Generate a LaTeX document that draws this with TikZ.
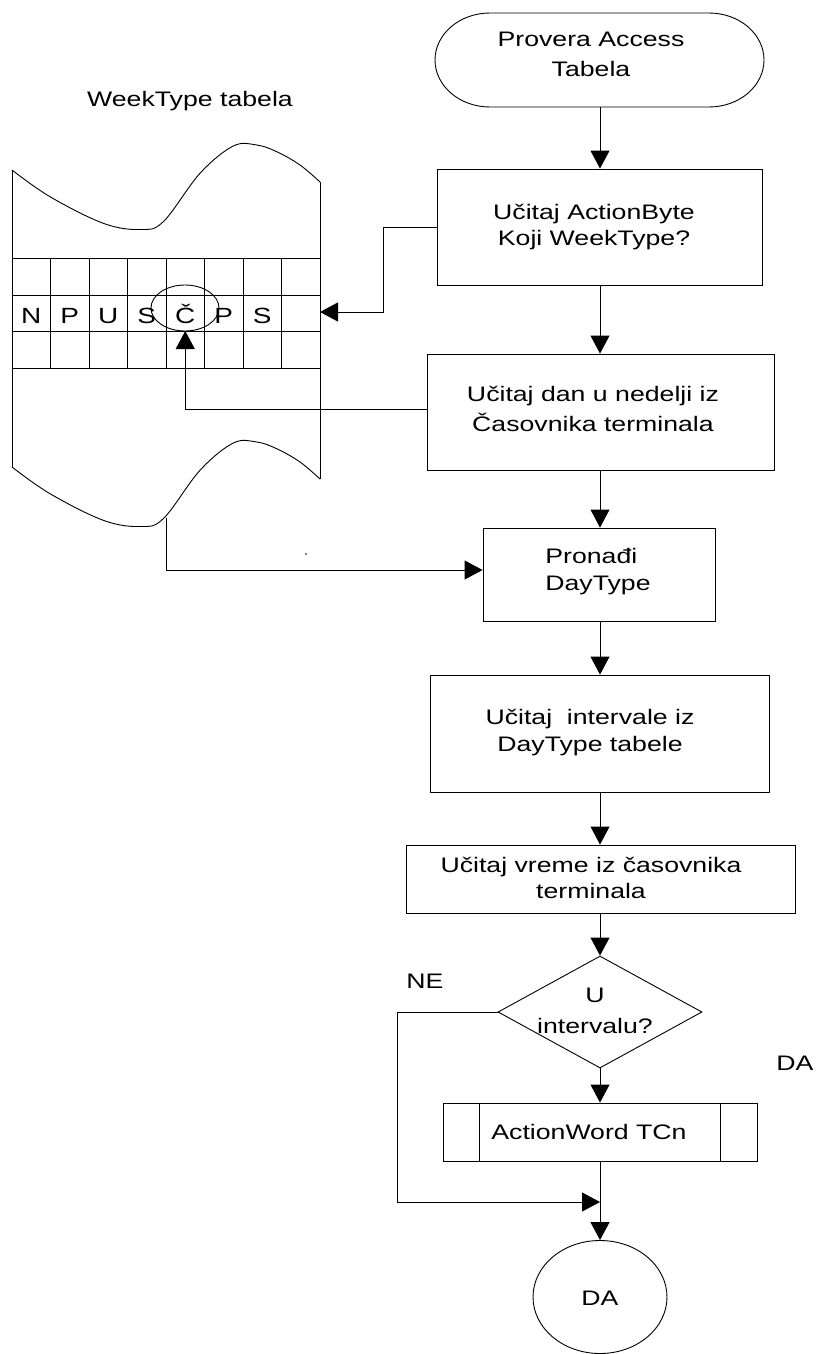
\documentclass[tikz,border=0pt]{standalone}
\usepackage{fontspec}
\setmainfont{Liberation Sans}[FakeStretch=1.27]
\usetikzlibrary{arrows.meta,shapes.geometric,calc}
\begin{document}
\begin{tikzpicture}[x=1pt,y=-1pt, line width=0.9pt,
  arr/.style={-{Triangle[length=18pt,width=19pt]}},
  box/.style={draw, rectangle, inner sep=0pt},
  txt/.style={font=\fontsize{21}{27}\selectfont, align=center, inner sep=0pt},
  lbl/.style={font=\fontsize{21}{27}\selectfont, inner sep=0pt, anchor=base},
  cellfont/.style={font=\fontsize{22}{27}\selectfont}]
\useasboundingbox (0,0) rectangle (817,1354);

% ---------- WeekType table ----------
\node[lbl] (tTitle) at (190,106.7) {WeekType tabela};
\draw (12,170) -- (12,467);
\draw (320,182) -- (320,479);
\draw plot[smooth, tension=0.6] coordinates {(12,170) (50,196.7) (103.3,223.3) (140,229.5) (163.3,221.7) (200,173.3) (233.3,146) (256.7,145) (276.7,151.7) (300,165) (320,182)};
\begin{scope}[shift={(0,297)}]
\draw plot[smooth, tension=0.6] coordinates {(12,170) (50,196.7) (103.3,223.3) (140,229.5) (163.3,221.7) (200,173.3) (233.3,146) (256.7,145) (276.7,151.7) (300,165) (320,182)};
\end{scope}
\foreach \yy in {258,295,331,368} \draw (12,\yy) -- (320,\yy);
\foreach \i in {0,...,8} \draw ({12+38.5*\i},258) -- ({12+38.5*\i},368);
\foreach \l [count=\i] in {N,P,U,S,Č,P,S}
  \node[lbl, cellfont] (cell\i) at ({12+38.5*(\i-0.5)},323) {\l};
\node[draw, ellipse, inner sep=0pt, minimum width=68pt, minimum height=46pt] (mark) at (185,308) {};
\coordinate (tabR) at (320,312);
\coordinate (cC) at (185.25,331);
\coordinate (tabB) at (166.7,518);
\fill (306,554) circle (0.8);

% ---------- flowchart ----------
\coordinate (trunk) at (600,0);
\node[inner sep=0pt, minimum width=329pt, minimum height=94pt] (start) at (599.5,60) {};
\draw (490,13) -- (709,13) arc[start angle=-90,end angle=90,x radius=55,y radius=47]
      -- (490,107) arc[start angle=90,end angle=270,x radius=55,y radius=47] -- cycle;
\node[txt] (tStart) at (591,54.7) {Provera Access\\[3pt]Tabela};

\node[box, minimum width=325pt, minimum height=116pt] (b1) at (599.5,227) {};
\node[txt] (t1) at (594,227) {Učitaj ActionByte\\[-1pt]Koji WeekType?};

\node[box, minimum width=347pt, minimum height=116pt] (b2) at (600.5,412) {};
\node[txt] (t2) at (593,409.4) {Učitaj dan u nedelji iz\\[3pt]Časovnika terminala};

\node[box, minimum width=232pt, minimum height=93pt] (b3) at (599,574.5) {};
\node[txt, align=left] (t3) at (598,571.3) {Pronađi\\DayType};

\node[box, minimum width=339pt, minimum height=117pt] (b4) at (599.5,733.5) {};
\node[txt] (t4) at (590,733) {Učitaj\ \ intervale iz\\DayType tabele};

\node[box, minimum width=389pt, minimum height=68pt] (b5) at (600.5,879) {};
\node[txt] (t5) at (591,877.7) {Učitaj vreme iz časovnika\\[-1pt]terminala};

\node[draw, diamond, inner sep=0pt, minimum width=204pt, minimum height=112pt] (d) at (600,1012) {};
\node[txt] (tD) at (595,1011) {U\\[4pt]intervalu?};

\node[box, minimum width=314pt, minimum height=58pt] (proc) at (600,1132) {};
\draw ($(proc.north west)+(37,0)$) -- ($(proc.south west)+(37,0)$);
\draw ($(proc.north east)+(-37,0)$) -- ($(proc.south east)+(-37,0)$);
\node[lbl] (tP) at (589,1139.3) {ActionWord TCn};

\node[draw, ellipse, inner sep=0pt, minimum width=134pt, minimum height=113pt] (stop) at (600,1297) {};
\node[lbl] (tE) at (600,1305) {DA};

\node[lbl] (tNE) at (425,988) {NE};
\node[lbl] (tDA) at (795,1070) {DA};

% ---------- connectors ----------
\draw[arr] (start.south -| trunk) -- (b1.north -| trunk);
\draw[arr] (b1.south -| trunk) -- (b2.north -| trunk);
\draw[arr] (b2.south -| trunk) -- (b3.north -| trunk);
\draw[arr] (b3.south -| trunk) -- (b4.north -| trunk);
\draw[arr] (b4.south -| trunk) -- (b5.north -| trunk);
\draw[arr] (b5.south -| trunk) -- (d.north);
\draw[arr] (d.south) -- (proc.north);
\draw[arr] (proc.south) -- (stop.north);

\coordinate (k1) at (383,312);
\draw[arr] (b1.west) -| (k1) -- (tabR);
\coordinate (k2) at (185.25,409);
\draw[arr] (b2.west |- k2) -- (k2) -- (cC);
\coordinate (k3) at (166.7,570);
\draw[arr] (tabB) |- (b3.west |- k3);
\coordinate (k4) at (397,1202);
\draw[arr] (d.west) -| (k4) -- (k4 -| trunk);
\end{tikzpicture}
\end{document}
